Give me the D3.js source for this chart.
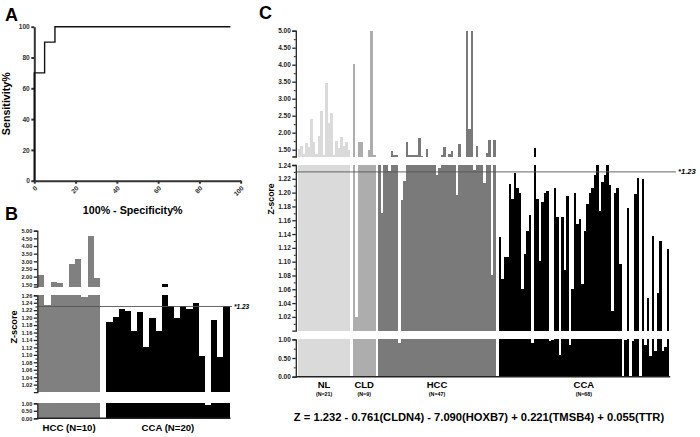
<!DOCTYPE html>
<html><head><meta charset="utf-8">
<script src="https://cdn.jsdelivr.net/npm/d3@7"></script>
<style>
body{margin:0;background:#fff;}
svg{display:block;font-family:"Liberation Sans",Arial,sans-serif;}
</style></head><body>
<svg id="c" width="700" height="437"></svg>
<script>
// ---------- Panel A: ROC ----------
const rocX = [0, 0, 5, 5, 10, 10, 95];
const rocY = [0, 70, 70, 90, 90, 100, 100];
const rocTicks = [0, 20, 40, 60, 80, 100];
const rocXLabel = "100% - Specificity%";
const rocYLabel = "Sensitivity%";

// ---------- Panel B ----------
const bGroups = ["HCC (N=10)", "CCA (N=20)"];
const bHCC = [2.10, 1.234, 1.63, 1.565, 1.30, 2.80, 3.15, 1.255, 4.67, 1.92];
const bCCA = [1.187, 1.201, 1.223, 1.219, 1.164, 1.216, 1.122, 1.198, 1.164, 1.50,
              1.231, 1.198, 1.231, 1.222, 1.238, 1.097, 0.92, 1.194, 1.095, 1.231];
const bTopTicks = [1.5, 2.0, 2.5, 3.0, 3.5, 4.0, 4.5, 5.0];
const bMidTicks = [1.02, 1.04, 1.06, 1.08, 1.10, 1.12, 1.14, 1.16, 1.18, 1.20, 1.22, 1.24, 1.26];
const bMidMinor = [1.01, 1.03, 1.05, 1.07, 1.09, 1.11, 1.13, 1.15, 1.17, 1.19, 1.21, 1.23, 1.25];
const bBotTicks = [0.0, 0.5, 1.0];

// ---------- Panel C ----------
const cGroups = ["NL", "CLD", "HCC", "CCA"];
const cCounts = ["(N=21)", "(N=9)", "(N=47)", "(N=68)"];
const cNL = [1.52, 1.62, 1.38, 1.70, 1.58, 2.40, 1.72, 1.38, 1.90, 2.65, 1.35, 3.45, 2.30, 2.57,
             1.35, 1.77, 1.55, 1.87, 1.62, 1.72, 1.50];
const cCLD = [4.03, 1.02, 1.72, 1.72, 1.27, 1.27, 1.50, 5.40, 1.35];
const cHCC = [1.28, 1.17, 1.29, 1.28, 1.232, 1.47, 1.35, 1.33, 0.91, 1.19, 1.217, 1.73, 1.35, 1.34,
              1.33, 1.35, 1.84, 1.31, 1.28, 1.52, 1.27, 1.28, 1.27, 1.226, 1.235, 1.34, 1.57, 1.28,
              1.37, 1.45, 1.28, 1.196, 1.67, 1.28, 1.27, 5.40, 2.10, 5.40, 1.233, 1.60, 1.28, 1.27,
              1.214, 1.40, 1.78, 1.08, 1.79];
const cCCA = [1.135, 1.075, 1.107, 1.107, 1.212, 1.191, 1.228, 1.206, 1.199, 1.061,
              1.111, 1.144, 1.168, 0.89, 1.56, 1.191, 1.101, 1.187, 1.20, 1.202,
              0.95, 0.98, 1.206, 1.164, 0.58, 1.164, 1.088, 1.195, 0.85, 1.060,
              1.199, 1.155, 1.162, 1.068, 1.144, 1.184, 1.199, 1.207, 1.225, 1.28,
              1.174, 1.216, 1.225, 1.28, 1.211, 1.029, 1.199, 1.206, 1.097, 0.0,
              0.97, 1.178, 0.0, 0.96, 1.198, 1.221, 0.0, 1.219, 0.85, 1.047,
              0.55, 1.137, 0.68, 1.054, 1.130, 0.70, 0.80, 1.118];
const cTopTicks = [1.5, 2.0, 2.5, 3.0, 3.5, 4.0, 4.5, 5.0];
const cTopMinor = [1.75, 2.25, 2.75, 3.25, 3.75, 4.25, 4.75];
const cMidTicks = [1.02, 1.04, 1.06, 1.08, 1.10, 1.12, 1.14, 1.16, 1.18, 1.20, 1.22, 1.24];
const cMidMinor = [1.01, 1.03, 1.05, 1.07, 1.09, 1.11, 1.13, 1.15, 1.17, 1.19, 1.21, 1.23];
const cBotTicks = [0.0, 0.5, 1.0];
const cBotMinor = [0.25, 0.75];
const cutoff = 1.23;
const cutoffLabel = "*1.23";
const formula = "Z = 1.232 - 0.761(CLDN4) - 7.090(HOXB7) + 0.221(TMSB4) + 0.055(TTR)";

const FONT = "'Liberation Sans', Arial, sans-serif";
const svg = d3.select("#c");
const fmt2 = d3.format(".2f");

function styleAxis(g, fs, sw, color) {
  g.attr("font-family", FONT).attr("font-weight", "bold").attr("font-size", fs).attr("color", color || "#222");
  g.selectAll("path,line").attr("stroke-width", sw);
}

function label(x, y, txt, fs, opts = {}) {
  const t = svg.append("text").attr("x", x).attr("y", y).text(txt)
    .attr("font-family", FONT).attr("font-weight", "bold").attr("font-size", fs)
    .attr("text-anchor", opts.anchor || "middle").attr("fill", "#000");
  if (opts.rotate) t.attr("transform", `rotate(${opts.rotate},${x},${y})`);
  if (opts.italic) t.attr("font-style", "italic");
  return t;
}

// ===== Panel A =====
{
  const ax = d3.scaleLinear().domain([0, 100]).range([34.3, 240.7]);
  const ay = d3.scaleLinear().domain([0, 100]).range([180.7, 26.7]);
  const gy = svg.append("g").attr("transform", "translate(34.3,0)")
    .call(d3.axisLeft(ay).tickValues(rocTicks).tickFormat(d3.format("d")).tickSize(3).tickSizeOuter(0).tickPadding(1.5));
  styleAxis(gy, 6.6, 2, "#333");
  const gx = svg.append("g").attr("transform", "translate(0,180.7)")
    .call(d3.axisBottom(ax).tickValues(rocTicks).tickFormat(d3.format("d")).tickSize(3).tickSizeOuter(0));
  styleAxis(gx, 6.6, 2, "#333");
  gx.selectAll(".tick text").attr("y", 0).attr("dy", 0).attr("text-anchor", "end")
    .attr("transform", "translate(3,8) rotate(-45)");
  const pts = rocX.map((x, i) => [ax(x), ay(rocY[i])]);
  svg.append("path").attr("d", d3.line()(pts)).attr("fill", "none").attr("stroke", "#111").attr("stroke-width", 1.4);
  label(10.4, 103.7, rocYLabel, 10.7, { rotate: -90 });
  label(132.7, 214.4, rocXLabel, 10.7);
  label(5, 20.5, "A", 18, { anchor: "start" });
}

// ===== broken-axis bar chart =====
function broken(cfg) {
  let pos = 0;
  const groups = cfg.groups.map(gr => { const o = Object.assign({}, gr, { start: pos }); pos += gr.values.length + cfg.gapSlots; return o; });
  const total = pos - cfg.gapSlots;
  const xs = d3.scaleLinear().domain([0, total]).range(cfg.xRange);
  const root = svg.append("g");
  const segScales = [];
  cfg.segments.forEach(s => {
    const ys = d3.scaleLinear().domain([s.lo, s.hi]).range([s.yLo, s.yHi]);
    segScales.push(ys);
    groups.forEach(gr => {
      const data = gr.values.map((v, i) => ({ v, i })).filter(d => d.v > s.lo);
      root.append("g").selectAll("rect").data(data).join("rect")
        .attr("x", d => xs(gr.start + d.i))
        .attr("width", d => xs(gr.start + d.i + 1) - xs(gr.start + d.i))
        .attr("y", d => ys(Math.min(d.v, s.hi)))
        .attr("height", d => ys(s.lo) - ys(Math.min(d.v, s.hi)))
        .attr("fill", gr.color).attr("shape-rendering", "crispEdges");
    });
  });
  // cutoff line in middle segment
  const ym = segScales[1];
  svg.append("line").attr("x1", cfg.axisX).attr("x2", cfg.cutEnd)
    .attr("y1", ym(cutoff)).attr("y2", ym(cutoff)).attr("stroke", "#555").attr("stroke-width", 0.9);
  label(cfg.cutEnd + 2, ym(cutoff) + 2.2, cutoffLabel, cfg.cutFs, { anchor: "start", italic: true });
  // axes
  cfg.segments.forEach((s, k) => {
    const ys = segScales[k];
    if (s.minor) {
      const gm = svg.append("g").attr("transform", `translate(${cfg.axisX},0)`)
        .call(d3.axisLeft(ys).tickValues(s.minor).tickFormat("").tickSize(2).tickSizeOuter(0));
      gm.select(".domain").remove();
      styleAxis(gm, cfg.tickFs, 1, "#222");
    }
    const g = svg.append("g").attr("transform", `translate(${cfg.axisX},0)`)
      .call(d3.axisLeft(ys).tickValues(s.ticks).tickFormat(fmt2).tickSize(3.5).tickSizeOuter(3.5).tickPadding(1.5));
    styleAxis(g, cfg.tickFs, 1.3, "#222");
  });
  // baseline
  const yb = segScales[2](0);
  svg.append("line").attr("x1", cfg.axisX).attr("x2", cfg.xRange[1] + 1).attr("y1", yb).attr("y2", yb)
    .attr("stroke", "#222").attr("stroke-width", 1.4);
  return { groups, xs };
}

// ===== Panel B =====
{
  const r = broken({
    groups: [{ values: bHCC, color: "#808080" }, { values: bCCA, color: "#000" }],
    gapSlots: 1.05, xRange: [38.3, 229.5], axisX: 37.3, cutEnd: 232, cutFs: 6.5, tickFs: 5.6,
    segments: [
      { lo: 1.35, hi: 5.0, yLo: 286.6, yHi: 230.7, ticks: bTopTicks },
      { lo: 1.0, hi: 1.26, yLo: 392.1, yHi: 295.3, ticks: bMidTicks, minor: bMidMinor },
      { lo: 0, hi: 1.0, yLo: 418.3, yHi: 403.3, ticks: bBotTicks }
    ]
  });
  r.groups.forEach((gr, i) => {
    const cx = (r.xs(gr.start) + r.xs(gr.start + gr.values.length)) / 2;
    label(cx, 430.5, bGroups[i], 9.6);
  });
  label(16.6, 327, "Z-score", 9.2, { rotate: -90 });
  label(5, 220, "B", 18, { anchor: "start" });
}

// ===== Panel C =====
{
  const r = broken({
    groups: [{ values: cNL, color: "#dadada" }, { values: cCLD, color: "#adadad" },
             { values: cHCC, color: "#7a7a7a" }, { values: cCCA, color: "#000" }],
    gapSlots: 1.0, xRange: [297.7, 669.2], axisX: 295.8, cutEnd: 676, cutFs: 7.6, tickFs: 6.5,
    segments: [
      { lo: 1.30, hi: 5.0, yLo: 156.5, yHi: 30.7, ticks: cTopTicks, minor: cTopMinor },
      { lo: 1.0, hi: 1.24, yLo: 330.7, yHi: 165, ticks: cMidTicks, minor: cMidMinor },
      { lo: 0, hi: 1.0, yLo: 376.7, yHi: 339.3, ticks: cBotTicks, minor: cBotMinor }
    ]
  });
  r.groups.forEach((gr, i) => {
    const cx = (r.xs(gr.start) + r.xs(gr.start + gr.values.length)) / 2;
    label(cx, 387.5, cGroups[i], 9.5);
    label(cx, 395.5, cCounts[i], 5.3);
  });
  label(274, 199, "Z-score", 8.6, { rotate: -90 });
  label(259, 18.5, "C", 18, { anchor: "start" });
  label(479, 421, formula, 11.2);
}
</script>
</body></html>
